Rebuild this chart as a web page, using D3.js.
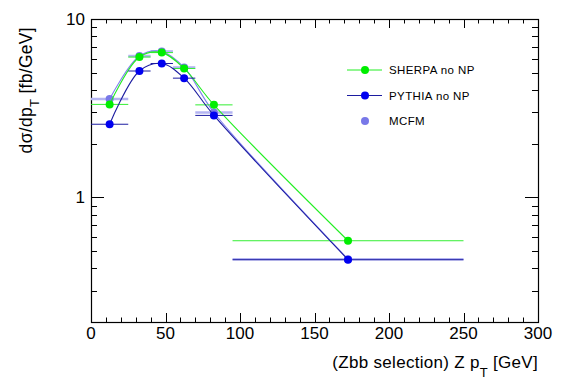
<!DOCTYPE html>
<html>
<head>
<meta charset="utf-8">
<script src="https://cdn.jsdelivr.net/npm/d3@7"></script>
<style>
  body { margin: 0; background: #fff; }
  svg { display: block; font-family: "Liberation Sans", Arial, sans-serif; }
</style>
</head>
<body>
<script>
// bin edges and centres (GeV)
var binLow = [0, 25, 40, 55, 70, 95];
var binHigh = [25, 40, 55, 70, 95, 250];
var binCenter = [12.5, 32.5, 47.5, 62.5, 82.5, 172.5];

// dsigma/dpT [fb/GeV]
var sherpa = [3.32, 6.12, 6.48, 5.28, 3.30, 0.571];
var pythia = [2.57, 5.11, 5.63, 4.66, 2.88, 0.447];
var mcfm = [3.56, 6.2, 6.58, 5.35, 2.99, 0.45];

var xTicks = [0, 50, 100, 150, 200, 250, 300];
var yTicks = [1, 10];

var width = 567, height = 384;
var margin = { left: 91, right: 29, top: 19, bottom: 62 };

var svg = d3.select('body').append('svg')
  .attr('width', width)
  .attr('height', height);

var x = d3.scaleLinear().domain([0, 300]).range([margin.left, width - margin.right]);
var y = d3.scaleLog().domain([0.2, 10]).range([height - margin.bottom, margin.top]);

var x0 = x.range()[0], x1 = x.range()[1];
var y0 = y.range()[0], y1 = y.range()[1];

// ticks (inward, on all four sides)
var ticks = svg.append('g').attr('stroke', '#000').attr('stroke-width', 1);
d3.range(0, 301, 10).forEach(function(v) {
  var len = v % 50 === 0 ? 9 : 4.5;
  var px = Math.round(x(v)) + 0.5;
  ticks.append('line').attr('x1', px).attr('x2', px).attr('y1', y0).attr('y2', y0 - len);
  ticks.append('line').attr('x1', px).attr('x2', px).attr('y1', y1).attr('y2', y1 + len);
});
var yMinor = [0.2, 0.3, 0.4, 0.5, 0.6, 0.7, 0.8, 0.9, 2, 3, 4, 5, 6, 7, 8, 9];
yMinor.forEach(function(v) {
  var py = Math.round(y(v)) + 0.5;
  ticks.append('line').attr('x1', x0).attr('x2', x0 + 6).attr('y1', py).attr('y2', py);
  ticks.append('line').attr('x1', x1).attr('x2', x1 - 6).attr('y1', py).attr('y2', py);
});
yTicks.forEach(function(v) {
  var py = Math.round(y(v)) + 0.5;
  ticks.append('line').attr('x1', x0).attr('x2', x0 + 13).attr('y1', py).attr('y2', py);
  ticks.append('line').attr('x1', x1).attr('x2', x1 - 13).attr('y1', py).attr('y2', py);
});

// frame
svg.append('rect')
  .attr('x', x0 + 0.5).attr('y', y1 + 0.5)
  .attr('width', x1 - x0).attr('height', y0 - y1)
  .attr('fill', 'none').attr('stroke', '#000').attr('stroke-width', 1.2);

// tick labels
svg.append('g').selectAll('text').data(xTicks).enter().append('text')
  .attr('x', function(d) { return x(d); })
  .attr('y', y0 + 17)
  .attr('text-anchor', 'middle')
  .attr('font-size', 17)
  .text(function(d) { return d; });

svg.append('g').selectAll('text').data(yTicks).enter().append('text')
  .attr('x', x0 - 6)
  .attr('y', function(d) { return y(d) + 6; })
  .attr('text-anchor', 'end')
  .attr('font-size', 17)
  .text(function(d) { return d; });

// axis titles
var xt = svg.append('text')
  .attr('x', x1).attr('y', 368)
  .attr('text-anchor', 'end')
  .attr('font-size', 17)
  .attr('letter-spacing', 0.3);
xt.append('tspan').text('(Zbb selection) Z p');
xt.append('tspan').attr('dy', 9).attr('font-size', 13).text('T');
xt.append('tspan').attr('dy', -9).text(' [GeV]');

var yt = svg.append('text')
  .attr('transform', 'translate(32,' + 27 + ') rotate(-90)')
  .attr('text-anchor', 'end')
  .attr('font-size', 17.5)
  .attr('letter-spacing', 0.3);
yt.append('tspan').text('d\u03c3/dp');
yt.append('tspan').attr('dy', 7).attr('font-size', 13).text('T');
yt.append('tspan').attr('dy', -7).text(' [fb/GeV]');

// series
var series = [
  { name: 'MCFM', values: mcfm, line: '#8282f0', bar: '#b4b4f2', barWidth: 2.5, marker: '#7878e8', legendLine: false },
  { name: 'SHERPA no NP', values: sherpa, line: '#22ee22', bar: '#33ee33', barWidth: 1, marker: '#00ee00', legendLine: true },
  { name: 'PYTHIA no NP', values: pythia, line: '#1c1ca0', bar: '#1c1ca0', barWidth: 1, marker: '#0000f0', legendLine: true }
];

var curve = d3.line()
  .x(function(d) { return x(d[0]); })
  .y(function(d) { return y(d[1]); })
  .curve(d3.curveCatmullRom.alpha(0.5));

series.forEach(function(s) {
  var g = svg.append('g');
  g.selectAll('line').data(s.values).enter().append('line')
    .attr('x1', function(d, i) { return x(binLow[i]); })
    .attr('x2', function(d, i) { return x(binHigh[i]); })
    .attr('y1', function(d) { return y(d); })
    .attr('y2', function(d) { return y(d); })
    .attr('stroke', s.bar)
    .attr('stroke-width', s.barWidth);
  g.append('path')
    .datum(s.values.map(function(v, i) { return [binCenter[i], v]; }))
    .attr('d', curve)
    .attr('fill', 'none')
    .attr('stroke', s.line)
    .attr('stroke-width', 1.1);
  g.selectAll('circle').data(s.values).enter().append('circle')
    .attr('cx', function(d, i) { return x(binCenter[i]); })
    .attr('cy', function(d) { return y(d); })
    .attr('r', 4)
    .attr('fill', s.marker);
});

// legend
var legendOrder = [series[1], series[2], series[0]];
var legend = svg.append('g');
legendOrder.forEach(function(s, i) {
  var ly = 70 + i * 25.5;
  if (s.legendLine) {
    legend.append('line')
      .attr('x1', 347).attr('x2', 382).attr('y1', ly).attr('y2', ly)
      .attr('stroke', s.line).attr('stroke-width', 1);
  }
  legend.append('circle').attr('cx', 365).attr('cy', ly).attr('r', 4).attr('fill', s.marker);
  legend.append('text')
    .attr('x', 389).attr('y', ly + 4)
    .attr('font-size', 11.5)
    .attr('letter-spacing', 0.4)
    .text(s.name);
});
</script>
</body>
</html>
